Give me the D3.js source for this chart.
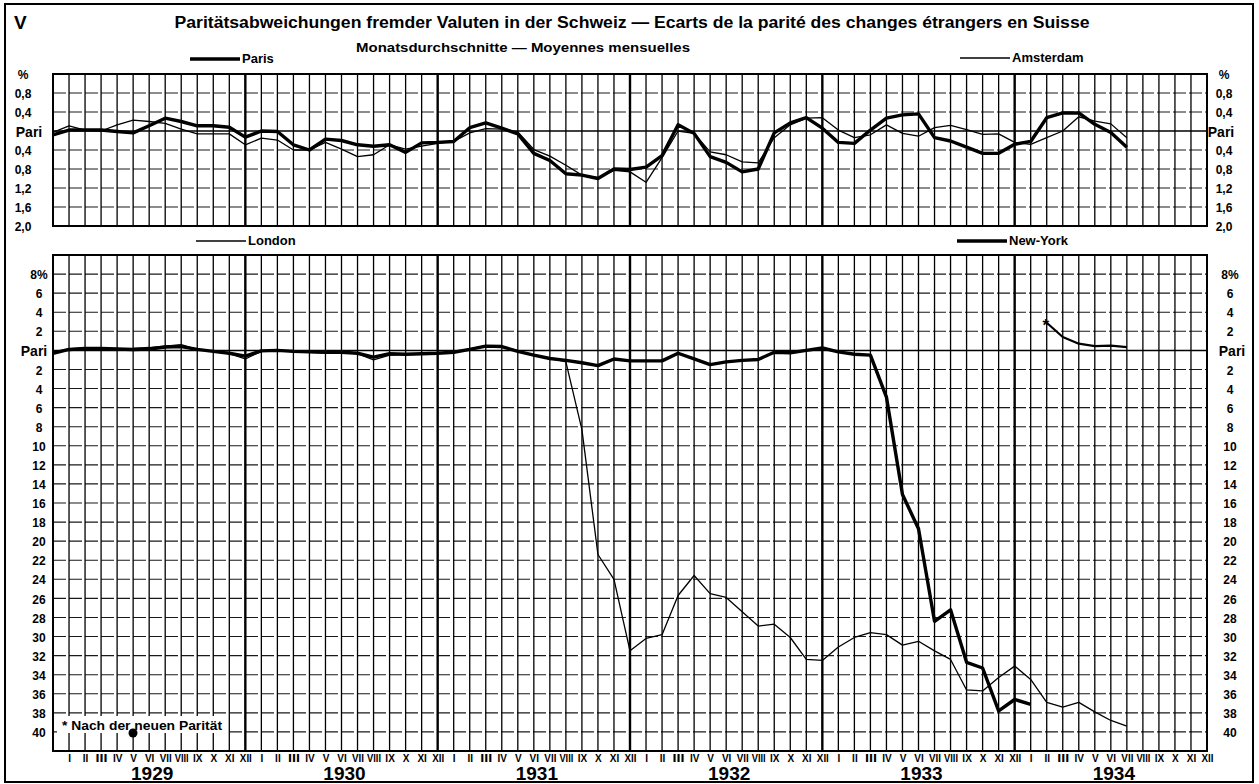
<!DOCTYPE html>
<html>
<head>
<meta charset="utf-8">
<script src="https://cdn.jsdelivr.net/npm/d3@7"></script>
<style>
body { margin: 0; background: #fff; }
svg { display: block; font-family: "Liberation Sans", Arial, sans-serif; }
</style>
</head>
<body>
<div id="chart"></div>
<script>

// monthly averages, deviation from parity in %, first value = Dec 1928
var years = [1929, 1930, 1931, 1932, 1933, 1934];
var romans = ["I","II","III","IV","V","VI","VII","VIII","IX","X","XI","XII"];

var paris = [-0.08, 0.02, 0.02, 0.02, -0.01, -0.04, 0.11, 0.27, 0.2, 0.11, 0.11, 0.08, -0.13,
    0, -0.01, -0.29, -0.4, -0.17, -0.2, -0.29, -0.32, -0.29, -0.45, -0.25, -0.24,
    -0.22, 0.07, 0.17, 0.06, -0.06, -0.47, -0.62, -0.9, -0.93, -1.0, -0.8, -0.81,
    -0.76, -0.52, 0.13, -0.05, -0.54, -0.66, -0.86, -0.8, -0.04, 0.17, 0.28, 0.06,
    -0.24, -0.26, 0.02, 0.27, 0.34, 0.36, -0.14, -0.21, -0.34, -0.47, -0.47, -0.28,
    -0.22, 0.28, 0.38, 0.38, 0.14, -0.03, -0.34];

var amsterdam = [-0.03, 0.11, 0.02, 0, 0.13, 0.23, 0.2, 0.16, 0.04, -0.06, -0.06, -0.06, -0.29,
    -0.15, -0.19, -0.4, -0.4, -0.24, -0.38, -0.54, -0.5, -0.29, -0.38, -0.32, -0.26,
    -0.22, -0.04, 0.05, 0.04, -0.02, -0.39, -0.53, -0.72, -0.93, -0.98, -0.83, -0.86,
    -1.08, -0.56, 0, -0.05, -0.44, -0.5, -0.65, -0.67, -0.14, 0.13, 0.27, 0.28,
    0.02, -0.14, -0.08, 0.13, -0.05, -0.11, 0.07, 0.12, 0.03, -0.07, -0.06, -0.24,
    -0.28, -0.14, 0, 0.3, 0.21, 0.15, -0.14];

var london = [-0.25, 0.15, 0.25, 0.2, 0.15, 0.2, 0.3, 0.45, 0.6, 0.1, -0.1, -0.35, -0.9,
    -0.1, 0, -0.15, -0.2, -0.25, -0.2, -0.35, -1.0, -0.5, -0.45, -0.4, -0.35,
    -0.15, 0.15, 0.5, 0.45, -0.05, -0.55, -0.8, -1.2, -8.3, -21.4, -24, -31.5,
    -30.2, -29.8, -25.7, -23.6, -25.5, -25.9, -27.4, -28.9, -28.7, -30.1, -32.4, -32.5,
    -31.1, -30.1, -29.6, -29.8, -30.9, -30.5, -31.5, -32.4, -35.6, -35.7, -34.3, -33.1,
    -34.5, -36.9, -37.4, -36.9, -37.9, -38.8, -39.4];

// Dec 1928 .. Jan 1934
var newYork = [-0.3, 0.1, 0.2, 0.2, 0.15, 0.1, 0.15, 0.35, 0.4, 0.1, -0.1, -0.3, -0.6,
    -0.05, 0, -0.1, -0.15, -0.2, -0.2, -0.3, -0.7, -0.35, -0.4, -0.35, -0.3,
    -0.2, 0.1, 0.45, 0.4, -0.1, -0.5, -0.85, -1.05, -1.3, -1.6, -0.9, -1.1,
    -1.1, -1.1, -0.3, -0.9, -1.5, -1.2, -1.05, -0.95, -0.2, -0.25, 0, 0.25,
    -0.15, -0.4, -0.5, -4.9, -15.1, -18.7, -28.4, -27.2, -32.7, -33.3, -37.8, -36.6,
    -37.1];
// Feb 1934 .. Jul 1934, nach der neuen Parität
var newYorkNew = [2.9, 1.4, 0.7, 0.45, 0.5, 0.35];

var topTicks = [1.2, 0.8, 0.4, 0, -0.4, -0.8, -1.2, -1.6, -2.0];
var bottomTicks = [8, 6, 4, 2, 0, -2, -4, -6, -8, -10, -12, -14, -16, -18, -20, -22, -24,
    -26, -28, -30, -32, -34, -36, -38, -40];

var W = 1259, H = 784;

var svg = d3.select("#chart")
    .append("svg")
    .attr("width", W)
    .attr("height", H);

var x = d3.scaleLinear().domain([-1, 71]).range([53, 1207]);
var yTop = d3.scaleLinear().domain([1.2, -2.0]).range([74, 226]);
var yBot = d3.scaleLinear().domain([10, -42]).range([255, 751]);

// outer frame
svg.append("rect")
    .attr("x", 5).attr("y", 4)
    .attr("width", 1248).attr("height", 778)
    .attr("fill", "none").attr("stroke", "#000").attr("stroke-width", 2);

// titles
svg.append("text").attr("x", 14).attr("y", 29)
    .style("font-size", "19px").style("font-weight", "bold").text("V");
svg.append("text").attr("x", 632).attr("y", 28)
    .attr("text-anchor", "middle")
    .attr("textLength", 915).attr("lengthAdjust", "spacingAndGlyphs")
    .style("font-size", "16px").style("font-weight", "bold")
    .text("Paritätsabweichungen fremder Valuten in der Schweiz — Ecarts de la parité des changes étrangers en Suisse");
svg.append("text").attr("x", 523).attr("y", 52)
    .attr("text-anchor", "middle")
    .attr("textLength", 334).attr("lengthAdjust", "spacingAndGlyphs")
    .style("font-size", "12px").style("font-weight", "bold")
    .text("Monatsdurchschnitte — Moyennes mensuelles");

var drawPanel = function(y, ticks){
    var g = svg.append("g");
    var y0 = y.range()[0], y1 = y.range()[1];

    g.selectAll("line.h")
        .data(ticks.filter(function(d){ return d != 0; }).concat(y.domain()))
        .enter().append("line")
        .attr("x1", x(-1)).attr("x2", x(71))
        .attr("y1", function(d){ return y(d); })
        .attr("y2", function(d){ return y(d); })
        .attr("stroke", "#1a1a1a").attr("stroke-width", 1.1)
        .attr("stroke-dasharray", "13,3");

    g.selectAll("line.v")
        .data(d3.range(-1, 72))
        .enter().append("line")
        .attr("x1", function(d){ return x(d); })
        .attr("x2", function(d){ return x(d); })
        .attr("y1", y0).attr("y2", y1)
        .attr("stroke", "#000")
        .attr("stroke-width", function(d){
            return (d == -1 || d == 71) ? 2 : ((d + 1) % 12 == 0 ? 2.4 : 1.3);
        });

    g.append("line")
        .attr("x1", x(-1)).attr("x2", x(71))
        .attr("y1", y(0)).attr("y2", y(0))
        .attr("stroke", "#000").attr("stroke-width", 1.5);

    g.append("rect")
        .attr("x", x(-1)).attr("y", y0)
        .attr("width", x(71) - x(-1)).attr("height", y1 - y0)
        .attr("fill", "none").attr("stroke", "#000").attr("stroke-width", 2);
    return g;
};

drawPanel(yTop, topTicks);
drawPanel(yBot, bottomTicks);

// footnote box covers the grid
svg.append("rect").attr("x", 57).attr("y", 716).attr("width", 171).attr("height", 17)
    .attr("fill", "#fff");
svg.append("text").attr("x", 62).attr("y", 730)
    .attr("textLength", 160).attr("lengthAdjust", "spacingAndGlyphs")
    .style("font-size", "13.5px").style("font-weight", "bold")
    .text("* Nach der neuen Parität");
svg.append("circle").attr("cx", 133).attr("cy", 733).attr("r", 4.5).attr("fill", "#000");

// y labels
var fmtTop = function(d){
    if (d == 1.2) return "%";
    if (d == 0) return "Pari";
    return Math.abs(d).toFixed(1).replace(".", ",");
};
var fmtBot = function(d){
    if (d == 8) return "8%";
    if (d == 0) return "Pari";
    return Math.abs(d);
};

var yLabels = function(y, ticks, fmt, xPos, xPari){
    svg.append("g").selectAll("text")
        .data(ticks)
        .enter().append("text")
        .attr("x", function(d){ return d == 0 ? xPari : xPos; })
        .attr("y", function(d){ return y(d) + 2; })
        .attr("text-anchor", "middle")
        .attr("dominant-baseline", "middle")
        .style("font-size", function(d){ return d == 0 ? "14px" : "12px"; })
        .style("font-weight", "bold")
        .text(fmt);
};
yLabels(yTop, topTicks, fmtTop, 23, 29);
yLabels(yTop, topTicks, fmtTop, 1224, 1221);
yLabels(yBot, bottomTicks, fmtBot, 39, 34);
yLabels(yBot, bottomTicks, fmtBot, 1230, 1232);

// month axis
var xAxis = d3.axisBottom(x)
    .tickValues(d3.range(0, 72))
    .tickFormat(function(d){ return romans[d % 12]; })
    .tickSize(0)
    .tickPadding(4);

var ax = svg.append("g")
    .attr("transform", "translate(0," + yBot.range()[1] + ")")
    .call(xAxis);
ax.select(".domain").remove();
ax.selectAll("text")
    .style("font-size", "10px").style("font-weight", "bold")
    .attr("fill", "#000")
    .each(function(d){
        var t = romans[d % 12];
        if (t.length >= 3) d3.select(this).attr("textLength", t.length == 4 ? 14 : 12)
            .attr("lengthAdjust", "spacingAndGlyphs");
    });

svg.append("g").selectAll("text")
    .data(years)
    .enter().append("text")
    .attr("x", function(d, i){ return x(i * 12 + 5.5) - 5; })
    .attr("y", 780)
    .attr("text-anchor", "middle")
    .style("font-size", "19px").style("font-weight", "bold")
    .text(function(d){ return d; });

// series
var lineTop = d3.line()
    .x(function(d, i){ return x(i - 1); })
    .y(function(d){ return yTop(d); });
var lineBot = d3.line()
    .x(function(d, i){ return x(i - 1); })
    .y(function(d){ return yBot(d); });
var lineNew = d3.line()
    .x(function(d, i){ return x(i + 61); })
    .y(function(d){ return yBot(d); });

var series = [
    {data: amsterdam, line: lineTop, w: 1.3},
    {data: paris, line: lineTop, w: 3.4},
    {data: london, line: lineBot, w: 1.3},
    {data: newYork, line: lineBot, w: 3.4},
    {data: newYorkNew, line: lineNew, w: 2.2}
];

svg.append("g").selectAll("path")
    .data(series)
    .enter().append("path")
    .attr("d", function(d){ return d.line(d.data); })
    .attr("fill", "none")
    .attr("stroke", "#000")
    .attr("stroke-width", function(d){ return d.w; })
    .attr("stroke-linejoin", "round");

svg.append("text")
    .attr("x", x(61) - 1).attr("y", yBot(newYorkNew[0]) + 8)
    .attr("text-anchor", "middle")
    .style("font-size", "17px").style("font-weight", "bold")
    .text("*");

// legends
var legends = [
    {name: "Paris", x: 190, y: 59, w: 3.4},
    {name: "Amsterdam", x: 960, y: 58, w: 1.3},
    {name: "London", x: 196, y: 241, w: 1.3},
    {name: "New-York", x: 957, y: 241, w: 3.4}
];
var lg = svg.append("g").selectAll("g")
    .data(legends)
    .enter().append("g");
lg.append("line")
    .attr("x1", function(d){ return d.x; })
    .attr("x2", function(d){ return d.x + 50; })
    .attr("y1", function(d){ return d.y; })
    .attr("y2", function(d){ return d.y; })
    .attr("stroke", "#000")
    .attr("stroke-width", function(d){ return d.w; });
lg.append("text")
    .attr("x", function(d){ return d.x + 52; })
    .attr("y", function(d){ return d.y + 4; })
    .style("font-size", "13px").style("font-weight", "bold")
    .text(function(d){ return d.name; });

</script>
</body>
</html>
